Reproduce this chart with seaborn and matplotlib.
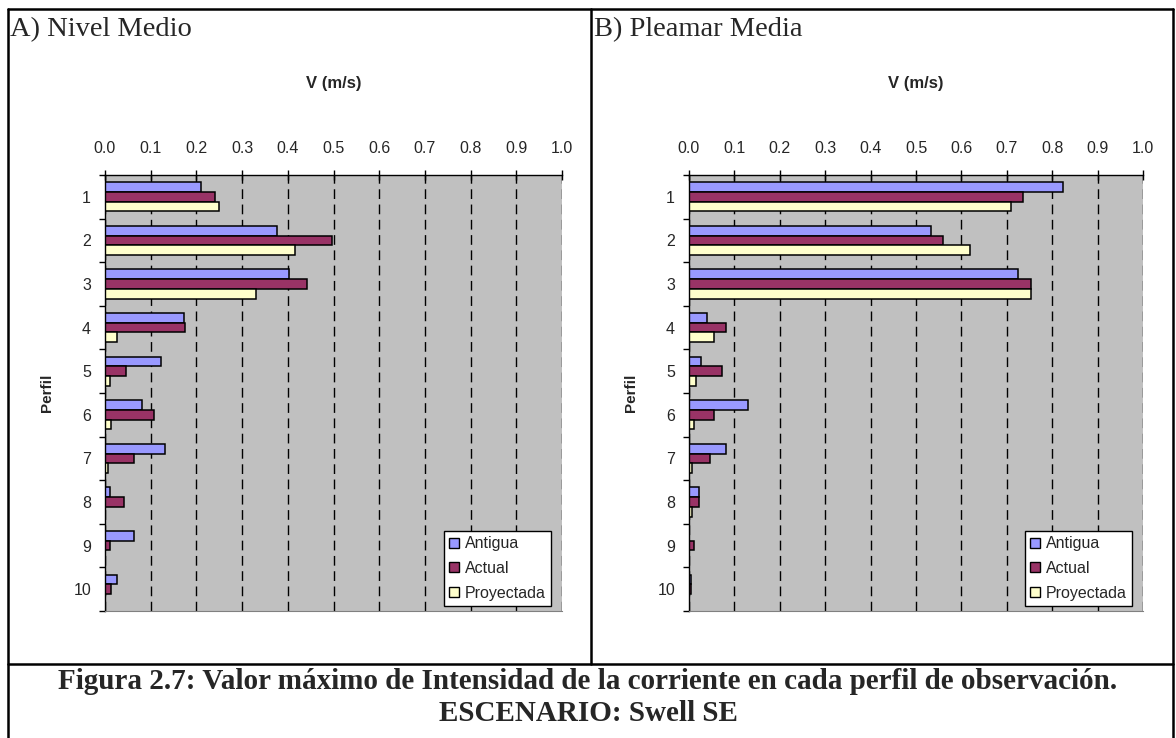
import numpy as np
import pandas as pd
import matplotlib
matplotlib.use("Agg")
import matplotlib.pyplot as plt
from matplotlib.lines import Line2D
from matplotlib.patches import Patch
from matplotlib.ticker import FixedLocator
import seaborn as sns

perfiles = [str(i) for i in range(1, 11)]
series = ["Antigua", "Actual", "Proyectada"]
colores = ["#9999FF", "#993366", "#FFFFCC"]
xticks = [0.0, 0.1, 0.2, 0.3, 0.4, 0.5, 0.6, 0.7, 0.8, 0.9, 1.0]

# A) Nivel Medio
nm_antigua = [0.21, 0.376, 0.402, 0.172, 0.122, 0.082, 0.132, 0.010, 0.064, 0.026]
nm_actual = [0.24, 0.497, 0.442, 0.175, 0.047, 0.108, 0.063, 0.042, 0.010, 0.013]
nm_proyectada = [0.25, 0.415, 0.33, 0.026, 0.010, 0.014, 0.007, 0.0, 0.0, 0.0]

# B) Pleamar Media
pm_antigua = [0.823, 0.532, 0.724, 0.039, 0.026, 0.131, 0.082, 0.023, 0.0, 0.005]
pm_actual = [0.736, 0.559, 0.753, 0.082, 0.072, 0.055, 0.046, 0.023, 0.010, 0.005]
pm_proyectada = [0.71, 0.618, 0.753, 0.055, 0.015, 0.010, 0.006, 0.006, 0.0, 0.0]

sns.set_style("white")
plt.rcParams["font.family"] = ["Liberation Sans", "DejaVu Sans"]

W, H = 1176, 738


def to_df(a, b, c):
    rows = []
    for name, vals in zip(series, [a, b, c]):
        for p, v in zip(perfiles, vals):
            rows.append({"Perfil": p, "V": v, "Serie": name})
    return pd.DataFrame(rows)


def panel(ax, df):
    sns.barplot(data=df, x="V", y="Perfil", hue="Serie", order=perfiles,
                hue_order=series, palette=colores, orient="h", width=0.67,
                edgecolor="black", linewidth=1.1, saturation=1,
                errorbar=None, ax=ax, legend=False)
    ax.set_facecolor("#C0C0C0")
    ax.set_xlim(0, 1)
    ax.set_ylim(9.5, -0.5)
    ax.xaxis.tick_top()
    ax.set_xticks(xticks)
    ax.set_xticklabels([f"{v:.1f}" for v in xticks])
    ax.tick_params(axis="x", direction="inout", length=7, width=1,
                   color="black", pad=10, labelsize=11.5, top=True, bottom=False)
    ax.set_yticks(range(len(perfiles)))
    ax.set_yticklabels(perfiles)
    ax.tick_params(axis="y", which="major", length=0, pad=10, labelsize=11.5)
    ax.yaxis.set_minor_locator(FixedLocator(np.arange(-0.5, 10, 1)))
    ax.tick_params(axis="y", which="minor", length=4, width=1,
                   direction="out", color="black", left=True)
    ax.grid(axis="x", color="black", linestyle=(0, (7, 4)), linewidth=1)
    ax.set_axisbelow(True)
    for s in ["top", "left"]:
        ax.spines[s].set_color("black")
        ax.spines[s].set_linewidth(1)
    ax.spines["bottom"].set_color("#808080")
    ax.spines["right"].set_visible(False)
    ax.xaxis.set_label_position("top")
    ax.set_xlabel("V (m/s)", fontsize=12, fontweight="bold", labelpad=38)
    ax.set_ylabel("Perfil", fontsize=11, fontweight="bold", labelpad=14)
    handles = [Patch(facecolor=c, edgecolor="black", linewidth=1) for c in colores]
    leg = ax.legend(handles, series, loc="lower right",
                    bbox_to_anchor=(0.976, 0.011), borderaxespad=0,
                    fontsize=11.5, handlelength=0.6, handleheight=0.6,
                    handletextpad=0.35, labelspacing=0.6, fancybox=False,
                    framealpha=1, edgecolor="black", borderpad=0.35)
    leg.get_frame().set_linewidth(1)


fig = plt.figure(figsize=(W / 100, H / 100), dpi=100)
fig.patch.set_facecolor("white")

ax_a = fig.add_axes([105 / W, 1 - 611 / H, 457 / W, 436 / H])
panel(ax_a, to_df(nm_antigua, nm_actual, nm_proyectada))
ax_b = fig.add_axes([689 / W, 1 - 611 / H, 454 / W, 436 / H])
panel(ax_b, to_df(pm_antigua, pm_actual, pm_proyectada))

serif = ["Liberation Serif", "DejaVu Serif"]
fig.text(10 / W, 1 - 36 / H, "A) Nivel Medio", family=serif, fontsize=20.5,
         va="baseline", ha="left")
fig.text(594 / W, 1 - 36 / H, "B) Pleamar Media", family=serif, fontsize=20.5,
         va="baseline", ha="left")
fig.text(0.5, 1 - 689 / H,
         "Figura 2.7: Valor máximo de Intensidad de la corriente en cada perfil de observación.",
         family=serif, fontsize=21, fontweight="bold", ha="center", va="baseline")
fig.text(0.5, 1 - 721 / H, "ESCENARIO: Swell SE", family=serif, fontsize=21,
         fontweight="bold", ha="center", va="baseline")

# table borders
lw = 1.8
for (x0, y0, x1, y1) in [(8, 9, 1173, 9), (8, 9, 8, 738), (1173, 9, 1173, 738),
                         (8, 664, 1173, 664), (591, 9, 591, 664)]:
    fig.add_artist(Line2D([x0 / W, x1 / W], [1 - y0 / H, 1 - y1 / H],
                          color="black", linewidth=lw, transform=fig.transFigure))

fig.savefig("out.png", dpi=100)
